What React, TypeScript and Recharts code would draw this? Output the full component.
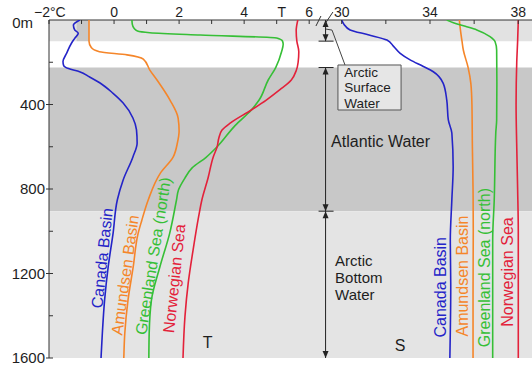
import React from 'react';
import {
  ComposedChart,
  XAxis,
  YAxis,
  Scatter,
  ReferenceArea,
  ReferenceLine,
  ReferenceDot,
} from 'recharts';

const FONT = '"Liberation Sans", Arial, Helvetica, sans-serif';

// Temperature profiles: [depth (m), temperature (°C)]
const canadaT: [number, number][] = [
  [0, -1.05], [24, -1.25], [47, -1.21], [63, -1.1], [87, -1.21], [110, -1.31],
  [158, -1.46], [197, -1.57], [215, -1.55], [230, -1.4], [245, -1.06], [270, -0.75],
  [298, -0.43], [347, -0.03], [393, 0.28], [464, 0.58], [520, 0.69], [582, 0.71],
  [648, 0.58], [757, 0.28], [852, 0.1], [1010, -0.03], [1168, -0.18], [1325, -0.29],
  [1483, -0.36], [1600, -0.4],
];
const amundsenT: [number, number][] = [
  [0, -0.77], [100, -0.77], [130, -0.7], [150, -0.45], [165, 0.4], [185, 0.9],
  [237, 1.1], [284, 1.32], [379, 1.72], [464, 1.97], [525, 2.0], [580, 1.95],
  [648, 1.82], [726, 1.42], [852, 1.05], [950, 0.85], [1010, 0.74], [1168, 0.59],
  [1325, 0.43], [1483, 0.33], [1600, 0.3],
];
const greenlandT: [number, number][] = [
  [0, 0.55], [20, 0.56], [40, 0.62], [52, 0.72], [60, 1.1], [71, 2.65], [85, 5.0],
  [100, 5.18], [115, 5.2], [150, 5.15], [225, 4.97], [284, 4.74], [379, 4.46],
  [426, 4.22], [500, 3.72], [600, 3.17], [650, 2.83], [700, 2.4], [748, 2.18],
  [805, 1.98], [852, 1.92], [1010, 1.71], [1168, 1.41], [1325, 1.15], [1483, 1.08],
  [1600, 1.07],
];
const norwegianT: [number, number][] = [
  [0, 5.65], [50, 5.6], [100, 5.62], [150, 5.68], [200, 5.66], [240, 5.6],
  [284, 5.45], [330, 5.1], [379, 4.68], [426, 4.22], [488, 3.57], [521, 3.32],
  [560, 3.22], [600, 3.17], [648, 3.05], [748, 2.89], [852, 2.7], [931, 2.6],
  [1089, 2.43], [1246, 2.28], [1404, 2.18], [1600, 2.12],
];

// Salinity profiles: [depth (m), salinity]
const canadaS: [number, number][] = [
  [0, 30.0], [20, 30.1], [47, 30.38], [70, 31.2], [95, 32.05], [125, 32.35],
  [158, 32.65], [189, 33.1], [220, 33.7], [245, 34.15], [300, 34.6], [379, 34.76],
  [473, 34.83], [535, 34.99], [695, 35.05], [852, 34.99], [1041, 34.92],
  [1263, 34.94], [1600, 34.9],
];
const amundsenS: [number, number][] = [
  [0, 35.33], [40, 35.37], [100, 35.45], [142, 35.51], [222, 35.72], [300, 35.85],
  [400, 35.9], [600, 35.92], [800, 35.95], [1000, 35.96], [1300, 35.95], [1600, 35.95],
];
const greenlandS: [number, number][] = [
  [0, 34.76], [13, 35.06], [30, 35.6], [47, 36.12], [79, 36.72], [103, 36.95],
  [142, 37.02], [300, 37.03], [473, 37.02], [535, 36.98], [852, 36.91],
  [1041, 36.84], [1300, 36.84], [1600, 36.84],
];
const norwegianS: [number, number][] = [
  [0, 38.0], [100, 37.97], [200, 37.93], [400, 37.9], [600, 37.93], [800, 37.97],
  [1000, 38.0], [1600, 38.0],
];

// Axis ticks
const depthTicks = [0, 200, 400, 600, 800, 1000, 1200, 1400, 1600];
const tempTicks = [-2, -1, 0, 1, 2, 3, 4, 5, 6];
const salTicks = [30, 32, 34, 36, 38];
const salLabelled = [30, 34, 38];

// Water-mass layers (depth limits, m)
const surfaceLayer = [0, 100];
const atlanticLayer = [225, 905];
const bottomLayer = [905, 1600];

const BLUE = '#2424c8';
const ORANGE = '#f5862a';
const GREEN = '#36bf36';
const RED = '#e3213a';
const INK = '#1e1e1e';

const toT = (rows: [number, number][]) => rows.map(([depth, t]) => ({ depth, t }));
const toS = (rows: [number, number][]) => rows.map(([depth, s]) => ({ depth, s }));

const series = [
  { name: 'Canada Basin', color: BLUE, temp: canadaT, sal: canadaS,
    tLabel: { x: -0.37, y: 1127, angle: -84 }, sLabel: { x: 34.45, y: 1265 } },
  { name: 'Amundsen Basin', color: ORANGE, temp: amundsenT, sal: amundsenS,
    tLabel: { x: 0.34, y: 1207, angle: -82 }, sLabel: { x: 35.49, y: 1212 } },
  { name: 'Greenland Sea (north)', color: GREEN, temp: greenlandT, sal: greenlandS,
    tLabel: { x: 1.2, y: 1117, angle: -81 }, sLabel: { x: 36.45, y: 1172 } },
  { name: 'Norwegian Sea', color: RED, temp: norwegianT, sal: norwegianS,
    tLabel: { x: 1.85, y: 1224, angle: -84 }, sLabel: { x: 37.49, y: 1193 } },
];

// Domains spread both panels across the shared plot width
const T_DOMAIN: [number, number] = [-2, 12.85];
const S_DOMAIN: [number, number] = [16.741, 38.621];
const SPAN_S = 29.27; // salinity-axis position of the water-mass span arrows

const NoDot = () => null;

const TempTick = (props: any) => {
  const { x, y, payload } = props;
  const v = payload.value as number;
  const major = v % 2 === 0;
  let label = '';
  let dx = 0;
  let anchor: 'middle' | 'start' = 'middle';
  if (v === -2) { label = '\u22122\u00b0C'; dx = -15; anchor = 'start'; }
  else if (v === 5) { label = 'T'; dx = 5; }
  else if (major) label = String(v);
  return (
    <g>
      <line x1={x} x2={x} y1={y} y2={y + 4} stroke="#333" strokeWidth={1} />
      {label && (
        <text x={x + dx} y={y - 3} textAnchor={anchor} fontSize={14} fontFamily={FONT} fill={INK}>
          {label}
        </text>
      )}
    </g>
  );
};

const SalTick = (props: any) => {
  const { x, y, payload } = props;
  const v = payload.value as number;
  const label = salLabelled.includes(v) ? String(v) : '';
  return (
    <g>
      <line x1={x} x2={x} y1={y} y2={y + 4} stroke="#333" strokeWidth={1} />
      {label && (
        <text x={x} y={y - 3} textAnchor="middle" fontSize={14} fontFamily={FONT} fill={INK}>
          {label}
        </text>
      )}
    </g>
  );
};

const DepthTick = (props: any) => {
  const { x, y, payload } = props;
  const v = payload.value as number;
  const major = v % 400 === 0;
  const label = v === 0 ? '0m' : major ? String(v) : '';
  return (
    <g>
      {v !== 0 && (
        <line x1={major ? x - 3 : x} x2={x + 4} y1={y} y2={y} stroke="#333" strokeWidth={1} />
      )}
      {label && (
        <text
          x={v === 0 ? x - 16 : x - 4}
          y={v === 0 ? y + 3 : y}
          dy="0.36em"
          textAnchor="end"
          fontSize={15}
          fontFamily={FONT}
          fill={INK}
        >
          {label}
        </text>
      )}
    </g>
  );
};

// Vertical double-headed arrow marking the depth range of a water mass
const spanShape = (tickTop: boolean, tickBottom: boolean) => (p: any) => {
  const { x1, y1, y2 } = p;
  const h = 7;
  const w = 3;
  return (
    <g>
      <line x1={x1} x2={x1} y1={y1} y2={y2} stroke="#222" strokeWidth={1} />
      <polygon points={`${x1},${y1} ${x1 - w},${y1 + h} ${x1 + w},${y1 + h}`} fill="#222" />
      <polygon points={`${x1},${y2} ${x1 - w},${y2 - h} ${x1 + w},${y2 - h}`} fill="#222" />
      {tickTop && <line x1={x1 - 7} x2={x1 + 8} y1={y1} y2={y1} stroke="#222" strokeWidth={1} />}
      {tickBottom && <line x1={x1 - 7} x2={x1 + 8} y1={y2} y2={y2} stroke="#222" strokeWidth={1} />}
    </g>
  );
};

const leaderShape = (p: any) => {
  const { x1, y1, x2, y2 } = p;
  return (
    <polyline
      points={`${x1},${y1} ${x1 + 6},${y1 + 1} ${x2},${y2}`}
      fill="none"
      stroke="#444"
      strokeWidth={1}
    />
  );
};

const axisBreak = (p: any) => {
  const { cx, cy } = p;
  return (
    <g stroke="#333" strokeWidth={1}>
      <line x1={cx - 5} y1={cy + 6} x2={cx} y2={cy - 4} />
      <line x1={cx + 4} y1={cy + 4} x2={cx + 12} y2={cy - 8} />
    </g>
  );
};

// Text block centred vertically on the reference point, one <text> per line
const textShape = (
  lines: string[],
  opts: { color?: string; size?: number; anchor?: 'start' | 'middle'; angle?: number; lead?: number } = {},
) => (p: any) => {
  const { cx, cy } = p;
  const { color = INK, size = 16, anchor = 'start', angle = 0, lead = 15 } = opts;
  const first = -((lines.length - 1) * lead) / 2;
  return (
    <g transform={angle ? `rotate(${angle} ${cx} ${cy})` : undefined}>
      {lines.map((ln, i) => (
        <text
          key={ln}
          x={cx}
          y={cy + first + i * lead}
          dy="0.35em"
          textAnchor={anchor}
          fontSize={size}
          fontFamily={FONT}
          fill={color}
        >
          {ln}
        </text>
      ))}
    </g>
  );
};

export default function App() {
  return (
    <div style={{ position: 'absolute', left: 0, top: 0 }}>
      <ComposedChart width={532} height={367} margin={{ top: 0, right: 0, bottom: 9, left: 0 }}>
        <XAxis
          xAxisId="t"
          dataKey="t"
          type="number"
          orientation="top"
          domain={T_DOMAIN}
          allowDataOverflow
          ticks={tempTicks}
          interval={0}
          height={20}
          tickSize={0}
          tickMargin={0}
          tickLine={false}
          tick={TempTick}
          axisLine={{ stroke: '#333', strokeWidth: 1 }}
        />
        <XAxis
          xAxisId="s"
          dataKey="s"
          type="number"
          orientation="top"
          mirror
          domain={S_DOMAIN}
          allowDataOverflow
          ticks={salTicks}
          interval={0}
          height={20}
          tickSize={0}
          tickMargin={0}
          tickLine={false}
          tick={SalTick}
          axisLine={false}
        />
        <YAxis
          yAxisId="d"
          dataKey="depth"
          type="number"
          domain={[0, 1600]}
          reversed
          allowDataOverflow
          ticks={depthTicks}
          interval={0}
          width={49}
          tickSize={0}
          tickMargin={0}
          tickLine={false}
          tick={DepthTick}
          axisLine={{ stroke: '#333', strokeWidth: 1 }}
        />

        {/* water-mass layers */}
        <ReferenceArea xAxisId="t" yAxisId="d" y1={surfaceLayer[0]} y2={surfaceLayer[1]}
          fill="#e2e2e2" fillOpacity={1} stroke="none" />
        <ReferenceArea xAxisId="t" yAxisId="d" y1={atlanticLayer[0]} y2={atlanticLayer[1]}
          fill="#c8c8c8" fillOpacity={1} stroke="none" />
        <ReferenceArea xAxisId="t" yAxisId="d" y1={bottomLayer[0]} y2={bottomLayer[1]}
          fill="#e4e4e4" fillOpacity={1} stroke="none" />
        <ReferenceArea xAxisId="t" yAxisId="d" x1={-1.15} x2={-0.77} y1={surfaceLayer[0]} y2={surfaceLayer[1]}
          fill="#c8c8c8" fillOpacity={1} stroke="none" />

        {series.map((sr) => (
          <Scatter
            key={`t-${sr.name}`}
            name={sr.name}
            xAxisId="t"
            yAxisId="d"
            data={toT(sr.temp)}
            line={{ stroke: sr.color, strokeWidth: 1.6 }}
            lineJointType="monotoneY"
            shape={NoDot}
            legendType="none"
            isAnimationActive={false}
          />
        ))}
        {series.map((sr) => (
          <Scatter
            key={`s-${sr.name}`}
            name={sr.name}
            xAxisId="s"
            yAxisId="d"
            data={toS(sr.sal)}
            line={{ stroke: sr.color, strokeWidth: 1.6 }}
            lineJointType="monotoneY"
            shape={NoDot}
            legendType="none"
            isAnimationActive={false}
          />
        ))}

        {series.map((sr) => (
          <ReferenceDot key={`tl-${sr.name}`} xAxisId="t" yAxisId="d" x={sr.tLabel.x} y={sr.tLabel.y} r={0}
            shape={textShape([sr.name], { color: sr.color, anchor: 'middle', angle: sr.tLabel.angle })} />
        ))}
        {series.map((sr) => (
          <ReferenceDot key={`sl-${sr.name}`} xAxisId="s" yAxisId="d" x={sr.sLabel.x} y={sr.sLabel.y} r={0}
            shape={textShape([sr.name], { color: sr.color, anchor: 'middle', angle: -90 })} />
        ))}

        {/* water-mass spans */}
        <ReferenceLine xAxisId="s" yAxisId="d" ifOverflow="visible"
          segment={[{ x: SPAN_S, y: surfaceLayer[0] }, { x: SPAN_S, y: surfaceLayer[1] }]}
          shape={spanShape(false, true)} />
        <ReferenceLine xAxisId="s" yAxisId="d" ifOverflow="visible"
          segment={[{ x: SPAN_S, y: atlanticLayer[0] }, { x: SPAN_S, y: atlanticLayer[1] }]}
          shape={spanShape(true, true)} />
        <ReferenceLine xAxisId="s" yAxisId="d" ifOverflow="visible"
          segment={[{ x: SPAN_S, y: bottomLayer[0] }, { x: SPAN_S, y: bottomLayer[1] }]}
          shape={spanShape(false, false)} />
        <ReferenceLine xAxisId="s" yAxisId="d" ifOverflow="visible"
          segment={[{ x: 29.29, y: 43 }, { x: 30.15, y: 213 }]}
          shape={leaderShape} />
        <ReferenceArea xAxisId="s" yAxisId="d" x1={29.83} x2={32.69} y1={213} y2={426}
          fill="#e6e6e6" fillOpacity={1} stroke="#555" strokeWidth={1} />
        <ReferenceDot xAxisId="s" yAxisId="d" x={30.12} y={320} r={0}
          shape={textShape(['Arctic', 'Surface', 'Water'], { size: 13.5, lead: 15.2 })} />
        <ReferenceDot xAxisId="s" yAxisId="d" x={29.52} y={576} r={0}
          shape={textShape(['Atlantic Water'])} />
        <ReferenceDot xAxisId="s" yAxisId="d" x={29.7} y={1221} r={0}
          shape={textShape(['Arctic', 'Bottom', 'Water'], { size: 15, lead: 16.9 })} />
        <ReferenceDot xAxisId="s" yAxisId="d" x={29.06} y={0} r={0} ifOverflow="visible" shape={axisBreak} />

        {/* panel tags */}
        <ReferenceDot xAxisId="t" yAxisId="d" x={2.88} y={1524} r={0}
          shape={textShape(['T'], { anchor: 'middle' })} />
        <ReferenceDot xAxisId="s" yAxisId="d" x={32.64} y={1538} r={0}
          shape={textShape(['S'], { anchor: 'middle' })} />
      </ComposedChart>
    </div>
  );
}
